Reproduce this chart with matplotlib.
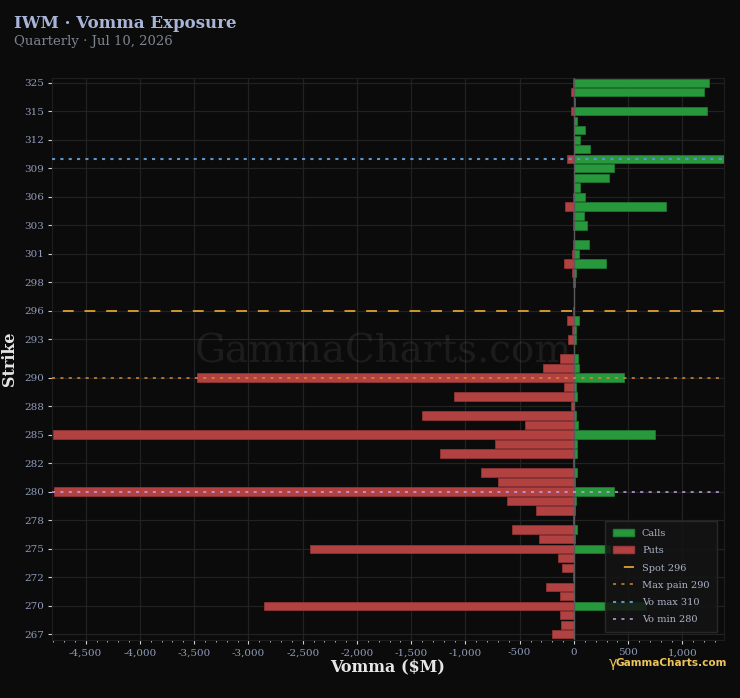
import matplotlib
matplotlib.use('Agg')
import matplotlib.pyplot as plt
from matplotlib.lines import Line2D
from matplotlib.patches import Patch
from matplotlib.ticker import MultipleLocator, FuncFormatter

plt.rcParams['font.family'] = ['DejaVu Serif']

# strikes, top to bottom (categorical rows)
strikes = [325, 320, 318, 315, 314, 313, 312, 311, 310, 309,
           308, 307, 306, 305, 304, 303, 302.5, 302, 301, 300,
           299, 298, 297.5, 297, 296, 295, 294, 293, 292.5, 292,
           291, 290, 289, 288.5, 288, 287, 286, 285, 284, 283,
           282, 281, 280.5, 280, 279, 278.5, 278, 277, 276, 275,
           274, 273, 272, 271, 270.5, 270, 269, 268, 267]

calls = [1240, 1197, 12, 1228, 31, 102, 59, 151, 1450, 373,
         321, 56, 105, 846, 96, 123, 0, 139, 49, 296,
         22, 12, 0, 0, 0, 49, 15, 22, 0, 40,
         49, 457, 22, 31, 4, 22, 40, 744, 28, 28,
         0, 31, 9, 370, 22, 9, 0, 30, 9, 335,
         0, 0, 0, 0, 0, 667, 0, 0, 0]

puts = [-8, -25, 0, -25, 0, 0, 0, 0, -68, 0,
        0, 0, -12, -86, -12, -12, 0, -12, -22, -96,
        -22, -12, 0, 0, -12, -68, -22, -59, 0, -133,
        -281, -3478, -96, -1109, -28, -1396, -447, -4801, -725, -1239,
        -9, -855, -704, -4792, -613, -352, -9, -574, -326, -2435,
        -148, -113, -13, -257, -126, -2861, -126, -117, -204]

tick_strikes = [325, 315, 312, 309, 306, 303, 301, 298, 296, 293,
                290, 288, 285, 282, 280, 278, 275, 272, 270, 267]

spot = 296
max_pain = 290
vo_max = 310
vo_min = 280

bg = '#0b0b0b'
green = '#28983d'
red = '#b24141'
tick_col = '#8f9bb8'

fig = plt.figure(figsize=(7.4, 6.98), dpi=100, facecolor=bg)
ax = fig.add_axes([0.0703, 0.0831, 0.908, 0.8052], facecolor=bg)

rows = list(range(len(strikes)))
ax.barh(rows, puts, height=0.88, color=red, edgecolor='#9a3636',
        linewidth=0.5, zorder=3)
ax.barh(rows, calls, height=0.88, color=green, edgecolor='#1f8033',
        linewidth=0.5, zorder=3)

ax.axvline(0, color='#5a5a5a', lw=1.0, zorder=4)

ax.axhline(strikes.index(spot), color='#e0a030', lw=1.3,
           linestyle=(6, (6, 6)), zorder=5)
ax.axhline(strikes.index(max_pain), color='#dc8a2c', lw=1.1,
           linestyle=(0, (2, 3.5)), zorder=5)
ax.axhline(strikes.index(vo_max), color='#5f93c8', lw=1.5,
           linestyle=(0, (1.5, 2.5)), zorder=5)
ax.axhline(strikes.index(vo_min), color='#c7a2f0', lw=1.1,
           linestyle=(0, (2, 3.5)), zorder=5)

ax.set_xlim(-4810, 1382)
ax.set_ylim(len(strikes) - 0.4, -0.5)

ax.set_yticks([strikes.index(s) for s in tick_strikes])
ax.set_yticklabels([str(s) for s in tick_strikes])
ax.xaxis.set_major_locator(MultipleLocator(500))
ax.xaxis.set_minor_locator(MultipleLocator(100))
ax.xaxis.set_major_formatter(FuncFormatter(lambda v, p: f'{int(v):,}'))

ax.tick_params(axis='both', which='major', colors='#cfcfcf', labelcolor=tick_col,
               labelsize=7.5, length=3, width=0.8, pad=3)
ax.tick_params(axis='x', which='minor', colors='#cfcfcf', length=1.5, width=0.6)
ax.grid(True, which='major', color='#222222', lw=0.9, zorder=0)
ax.set_axisbelow(True)
for sp in ax.spines.values():
    sp.set_color('#1e1e1e')

ax.set_xlabel('Vomma ($M)', fontsize=11.5, fontweight='bold', color='#e6e6e6',
              labelpad=1)
ax.set_ylabel('Strike', fontsize=11.5, fontweight='bold', color='#e6e6e6',
              labelpad=4)

fig.text(14 / 740, 1 - 24 / 698, 'IWM · Vomma Exposure', fontsize=12,
         fontweight='bold', color='#a8b5d9', va='center', ha='left')
fig.text(14 / 740, 1 - 41 / 698, 'Quarterly · Jul 10, 2026', fontsize=9.5,
         color='#7d838f', va='center', ha='left')

# watermarks
ax.text(383 / 740, 1 - 352 / 698, 'GammaCharts.com', transform=fig.transFigure,
        fontsize=28, color='#ffffff', alpha=0.07, ha='center', va='center',
        zorder=1)
fig.text(609 / 740, 1 - 663 / 698, 'γ', fontsize=10, color='#e8c050',
         ha='left', va='center', family='DejaVu Sans')
fig.text(616 / 740, 1 - 663 / 698, 'GammaCharts.com', fontsize=7.6,
         fontweight='bold', color='#ecc458', ha='left', va='center',
         family='DejaVu Sans')

handles = [
    Patch(facecolor=green, edgecolor='#1f8033', label='Calls'),
    Patch(facecolor=red, edgecolor='#9a3636', label='Puts'),
    Line2D([], [], color='#e0a030', lw=1.3, linestyle=(6, (6, 6)), label=f'Spot {spot}'),
    Line2D([], [], color='#dc8a2c', lw=1.1, linestyle=(0, (2, 3.5)), label=f'Max pain {max_pain}'),
    Line2D([], [], color='#5f93c8', lw=1.5, linestyle=(0, (1.5, 2.5)), label=f'Vo max {vo_max}'),
    Line2D([], [], color='#c7a2f0', lw=1.1, linestyle=(0, (2, 3.5)), label=f'Vo min {vo_min}'),
]
leg = ax.legend(handles=handles, loc='lower right', bbox_to_anchor=(0.99, 0.014),
                borderaxespad=0, fontsize=7, labelcolor='#aab3c8',
                facecolor='#141414', edgecolor='#2c2c2c', framealpha=0.88,
                fancybox=False, handlelength=2.2, labelspacing=0.85,
                borderpad=0.8)
leg.set_zorder(6)

fig.savefig('out.png', dpi=100, facecolor=bg)
